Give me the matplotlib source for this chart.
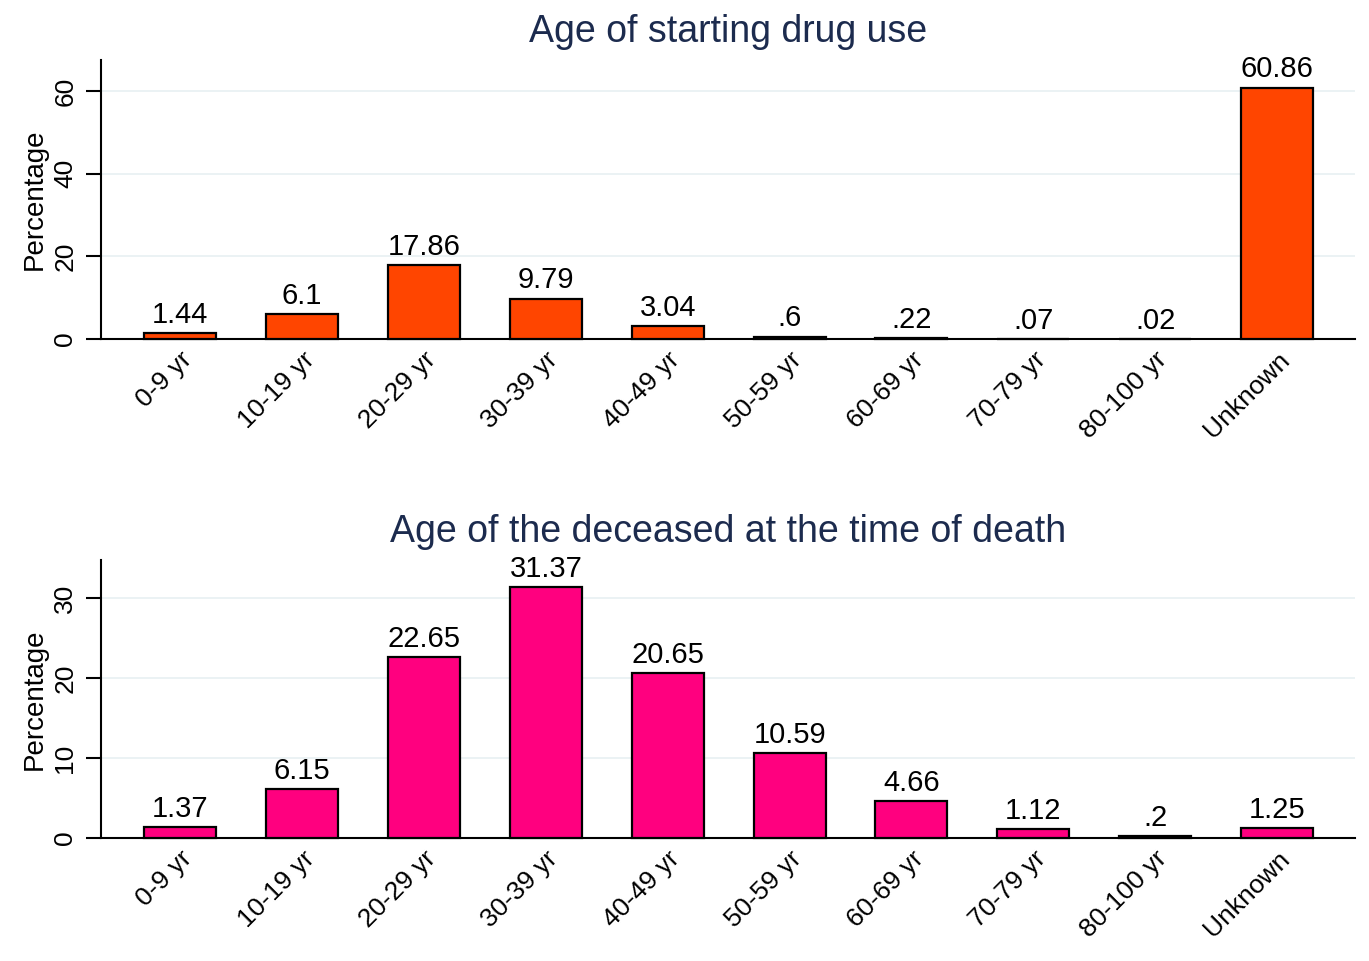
import matplotlib
matplotlib.use("Agg")
import matplotlib.pyplot as plt
import matplotlib.transforms as mtransforms
import numpy as np

categories = ["0-9 yr", "10-19 yr", "20-29 yr", "30-39 yr", "40-49 yr",
              "50-59 yr", "60-69 yr", "70-79 yr", "80-100 yr", "Unknown"]
start_values = [1.44, 6.1, 17.86, 9.79, 3.04, 0.6, 0.22, 0.07, 0.02, 60.86]
start_labels = ["1.44", "6.1", "17.86", "9.79", "3.04", ".6", ".22", ".07", ".02", "60.86"]
death_values = [1.37, 6.15, 22.65, 31.37, 20.65, 10.59, 4.66, 1.12, 0.2, 1.25]
death_labels = ["1.37", "6.15", "22.65", "31.37", "20.65", "10.59", "4.66", "1.12", ".2", "1.25"]
start_ticks = [0, 20, 40, 60]
death_ticks = [0, 10, 20, 30]

plt.rcParams['font.family'] = ['Liberation Sans', 'DejaVu Sans']

fig = plt.figure(figsize=(13.69, 9.61), dpi=100)
fig.patch.set_facecolor('white')

panels = [
    dict(rect=[0.0738, 0.6472, 0.916, 0.2903], vals=start_values, labs=start_labels,
         color="#FF4500", ticks=start_ticks, ylim=67.5, title="Age of starting drug use"),
    dict(rect=[0.0738, 0.128, 0.916, 0.2893], vals=death_values, labs=death_labels,
         color="#FF007F", ticks=death_ticks, ylim=34.75, title="Age of the deceased at the time of death"),
]

title_color = "#1C2B4E"
shift = mtransforms.ScaledTranslation(-7 / 100, 0, fig.dpi_scale_trans)
for p in panels:
    ax = fig.add_axes(p["rect"])
    x = np.arange(len(categories))
    bars = ax.bar(x, p["vals"], width=0.59, color=p["color"], edgecolor="black",
                  linewidth=1.6, zorder=3, clip_on=False)
    ax.set_xlim(-0.65, 9.64)
    ax.set_ylim(0, p["ylim"])
    ax.set_yticks(p["ticks"])
    ax.set_yticklabels([str(t) for t in p["ticks"]], rotation=90, va="center", fontsize=19)
    ax.set_xticks(x)
    ax.set_xticklabels(categories, rotation=45, ha="right", rotation_mode="anchor", fontsize=19)
    for lbl in ax.get_xticklabels():
        lbl.set_transform(lbl.get_transform() + shift)
    ax.tick_params(axis="x", length=0, pad=6)
    ax.tick_params(axis="y", length=11, width=1.5, pad=6)
    ax.grid(axis="y", color="#E8F0F2", linewidth=1.2, zorder=0)
    for s in ["top", "right"]:
        ax.spines[s].set_visible(False)
    ax.spines["left"].set_linewidth(1.5)
    ax.spines["bottom"].set_linewidth(1.5)
    ax.set_ylabel("Percentage", fontsize=20, labelpad=4)
    ax.set_title(p["title"], fontsize=27, color=title_color, pad=13)
    for b, lab in zip(bars, p["labs"]):
        ax.annotate(lab, (b.get_x() + b.get_width() / 2, b.get_height()),
                    xytext=(0, 3), textcoords="offset points",
                    ha="center", va="bottom", fontsize=21, color="black")

fig.savefig("out.png", dpi=100, facecolor="white")
